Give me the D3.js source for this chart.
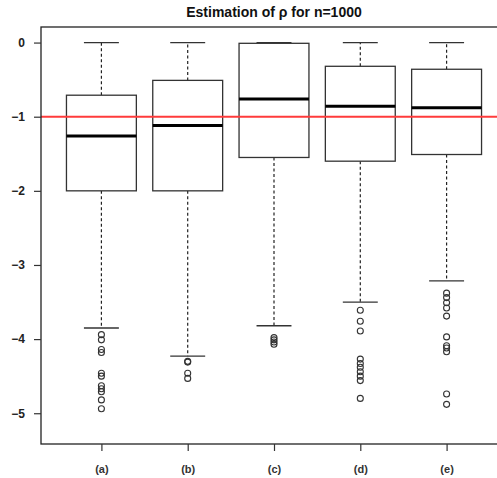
<!DOCTYPE html>
<html><head><meta charset="utf-8">
<script src="https://cdn.jsdelivr.net/npm/d3@7"></script>
<style>body{margin:0;background:#fff}svg{display:block}</style>
</head><body>
<script>
const categories = ["(a)", "(b)", "(c)", "(d)", "(e)"];
const q1 =        [-2.00, -2.00, -1.55, -1.60, -1.51];
const medians =   [-1.26, -1.12, -0.76, -0.86, -0.88];
const q3 =        [-0.71, -0.51, -0.01, -0.32, -0.36];
const whiskerLo = [-3.85, -4.23, -3.82, -3.50, -3.215];
const whiskerHi = [0, 0, 0, 0, 0];
const outliers = [
  [-3.94, -4.01, -4.14, -4.18, -4.46, -4.50, -4.63, -4.67, -4.71, -4.82, -4.94],
  [-4.30, -4.31, -4.46, -4.53],
  [-3.98, -4.01, -4.04, -4.07],
  [-3.61, -3.76, -3.89, -4.27, -4.33, -4.38, -4.44, -4.50, -4.56, -4.80],
  [-3.38, -3.44, -3.51, -3.58, -3.69, -3.97, -4.09, -4.12, -4.17, -4.74, -4.88]
];
const yTicks = [0, -1, -2, -3, -4, -5];
const refValue = -1;
const titleText = "Estimation of ρ for n=1000";

const W = 497, H = 478;
const svg = d3.select("body").append("svg").attr("width", W).attr("height", H);
const x = d3.scaleLinear().domain([0.3, 5.7]).range([41, 507]);
const y = d3.scaleLinear().domain([0.21, -5.415]).range([27, 444]);
const boxW = x(1.81) - x(1);
const capW = boxW / 2;
const font = "'Liberation Sans', Arial, Helvetica, sans-serif";

const g = svg.append("g");
categories.forEach((c, i) => {
  const cx = x(i + 1);
  g.append("line").attr("x1", cx).attr("x2", cx).attr("y1", y(q3[i])).attr("y2", y(whiskerHi[i]))
    .attr("stroke", "#222").attr("stroke-width", 1.2).attr("stroke-dasharray", "3,2.5");
  g.append("line").attr("x1", cx).attr("x2", cx).attr("y1", y(q1[i])).attr("y2", y(whiskerLo[i]))
    .attr("stroke", "#222").attr("stroke-width", 1.2).attr("stroke-dasharray", "3,2.5");
  [whiskerHi[i], whiskerLo[i]].forEach(v => {
    g.append("line").attr("x1", cx - capW / 2).attr("x2", cx + capW / 2).attr("y1", y(v)).attr("y2", y(v))
      .attr("stroke", "#333").attr("stroke-width", 1.3);
  });
  g.append("rect").attr("x", cx - boxW / 2).attr("width", boxW)
    .attr("y", y(q3[i])).attr("height", y(q1[i]) - y(q3[i]))
    .attr("fill", "#fff").attr("stroke", "#333").attr("stroke-width", 1.3);
  g.append("line").attr("x1", cx - boxW / 2).attr("x2", cx + boxW / 2).attr("y1", y(medians[i])).attr("y2", y(medians[i]))
    .attr("stroke", "#000").attr("stroke-width", 3);
  outliers[i].forEach(v => {
    g.append("circle").attr("cx", cx).attr("cy", y(v)).attr("r", 3)
      .attr("fill", "none").attr("stroke", "#333").attr("stroke-width", 1.1);
  });
});

svg.append("line").attr("x1", 41).attr("x2", W).attr("y1", y(refValue)).attr("y2", y(refValue))
  .attr("stroke", "#ff3b3b").attr("stroke-width", 2);

svg.append("rect").attr("x", 41).attr("y", 27).attr("width", 507 - 41).attr("height", 444 - 27)
  .attr("fill", "none").attr("stroke", "#222").attr("stroke-width", 1.3);

const yAxis = svg.append("g").attr("transform", "translate(41,0)")
  .call(d3.axisLeft(y).tickValues(yTicks).tickSize(7).tickPadding(9)
    .tickFormat(d => d === 0 ? "0" : "−" + Math.abs(d)));
yAxis.select(".domain").remove();
yAxis.selectAll("line").attr("stroke", "#333").attr("stroke-width", 1.2);
yAxis.selectAll("text").attr("font-family", font).attr("font-size", 12).attr("font-weight", "bold").attr("fill", "#222");

const xAxis = svg.append("g").attr("transform", "translate(0,444)")
  .call(d3.axisBottom(x).tickValues(categories.map((c, i) => i + 1)).tickSize(7).tickPadding(14)
    .tickFormat((d, i) => categories[i]));
xAxis.select(".domain").remove();
xAxis.selectAll("line").attr("stroke", "#333").attr("stroke-width", 1.2);
xAxis.selectAll("text").attr("font-family", font).attr("font-size", 11).attr("font-weight", "bold").attr("fill", "#333");

svg.append("text").attr("x", (41 + 507) / 2).attr("y", 17).attr("text-anchor", "middle")
  .attr("font-family", font).attr("font-size", 14).attr("font-weight", "bold").attr("fill", "#111")
  .text(titleText);
</script>
</body></html>
